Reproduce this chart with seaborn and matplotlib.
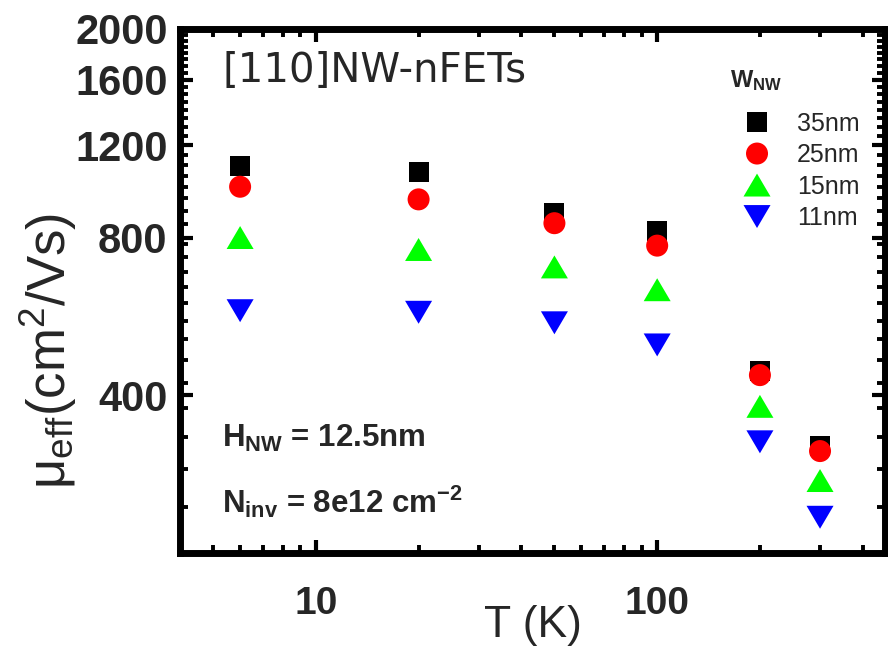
import numpy as np
import pandas as pd
import matplotlib
matplotlib.use("Agg")
import matplotlib.pyplot as plt
import seaborn as sns
from matplotlib.ticker import FixedLocator, FixedFormatter, NullFormatter

# ---- data ----
temperature = [6, 20, 50, 100, 200, 300]
width_labels = ["35nm", "25nm", "15nm", "11nm"]
mu_35nm = [1094, 1065, 890, 825, 445, 320]
mu_25nm = [1000, 946, 852, 772, 437, 313]
mu_15nm = [800, 759, 703, 636, 381, 275]
mu_11nm = [580, 576, 550, 499, 326, 234]
y_major_ticks = [400, 800, 1200, 1600, 2000]
y_tick_labels = ["400", "800", "1200", "1600", "2000"]
x_major_ticks = [10, 100]
x_tick_labels = ["10", "100"]

sns.set_theme(style="ticks")
plt.rcParams["font.family"] = ["Liberation Sans", "DejaVu Sans"]
plt.rcParams["mathtext.fontset"] = "custom"
plt.rcParams["mathtext.rm"] = "Liberation Sans"
plt.rcParams["mathtext.it"] = "Liberation Sans:italic"
plt.rcParams["mathtext.bf"] = "Liberation Sans:bold"
plt.rcParams["mathtext.sf"] = "Liberation Sans"

fig = plt.figure(figsize=(8.88, 6.5), dpi=100)
ax = fig.add_axes([180 / 888, 97 / 650, 705 / 888, 524 / 650])

tri_up = [(0, 0.85), (-1, -0.85), (1, -0.85)]
tri_down = [(0, -0.85), (-1, 0.85), (1, 0.85)]

series = [
    (mu_35nm, "s", "#000000", 207),
    (mu_25nm, "o", "#ff0000", 251),
    (mu_15nm, tri_up, "#00ff00", 378),
    (mu_11nm, tri_down, "#0000ff", 378),
]
for label, (vals, marker, color, size) in zip(width_labels, series):
    df = pd.DataFrame({"T": temperature, "mu": vals})
    sns.scatterplot(data=df, x="T", y="mu", marker=marker, color=color,
                    s=size, linewidth=0, edgecolor="none", label=label,
                    ax=ax, zorder=3)

ax.set_xscale("log")
ax.set_yscale("log")
ax.set_xlim(4.0, 465)
ax.set_ylim(200, 2000)

ax.xaxis.set_major_locator(FixedLocator(x_major_ticks))
ax.xaxis.set_major_formatter(FixedFormatter(x_tick_labels))
x_minor = [5, 6, 7, 8, 9, 20, 30, 40, 50, 60, 70, 80, 90, 200, 300, 400]
ax.xaxis.set_minor_locator(FixedLocator(x_minor))
ax.xaxis.set_minor_formatter(NullFormatter())

ax.yaxis.set_major_locator(FixedLocator(y_major_ticks))
ax.yaxis.set_major_formatter(FixedFormatter(y_tick_labels))
y_minor = [v for v in np.arange(200 + 400 / 9, 800, 400 / 9) if abs(v - 400) > 1]
y_minor += list(range(850, 1200, 50)) + list(range(1250, 1600, 50)) + list(range(1650, 2000, 50))
ax.yaxis.set_minor_locator(FixedLocator(y_minor))
ax.yaxis.set_minor_formatter(NullFormatter())

for sp in ax.spines.values():
    sp.set_linewidth(5)
    sp.set_color("black")
    sp.set_visible(True)

ax.tick_params(which="both", direction="in", top=True, right=True, color="black")
ax.tick_params(which="major", length=9.6, width=3)
ax.tick_params(which="minor", length=6, width=2.8)
ax.tick_params(axis="y", which="major", pad=9, labelsize=30)
ax.tick_params(axis="x", which="major", pad=24, labelsize=28)
for t in ax.get_yticklabels():
    t.set_fontweight("bold")
for t in ax.get_xticklabels():
    t.set_fontweight("bold")

ax.set_xlabel("T (K)", fontsize=32)
ax.xaxis.set_label_coords(0.5, -0.100)
ax.xaxis.label.set_va("top")
ax.set_ylabel(r"μ$_{\mathrm{eff}}$(cm$^{2}$/Vs)", fontsize=38, va="center", ha="center")
ax.yaxis.set_label_coords(-0.186, 0.385)

ax.text(0.0596, 0.92, "[110]NW-nFETs", transform=ax.transAxes, fontsize=29,
        va="center", ha="left", family="DejaVu Sans")
ax.text(0.0596, 0.2023, r"H$_{\mathbf{NW}}$ = 12.5nm", transform=ax.transAxes,
        fontsize=22.5, fontweight="bold", va="baseline", ha="left")
ax.text(0.0596, 0.0763, r"N$_{\mathbf{inv}}$ = 8e12 cm$^{\mathbf{-2}}$", transform=ax.transAxes,
        fontsize=22.5, fontweight="bold", va="baseline", ha="left")

# legend title drawn separately so its gap to the entries matches the reference
ax.text(0.780, 0.889, r"$\mathbf{W}_{\mathbf{NW}}$", transform=ax.transAxes,
        fontsize=17, va="baseline", ha="left")
leg = ax.legend(loc="upper left", bbox_to_anchor=(0.783, 0.842),
                frameon=False, fontsize=18, handlelength=2.0,
                handletextpad=0.6, labelspacing=0.3, borderpad=0,
                borderaxespad=0, scatteryoffsets=[0.5])

fig.savefig("out.png", dpi=100)
